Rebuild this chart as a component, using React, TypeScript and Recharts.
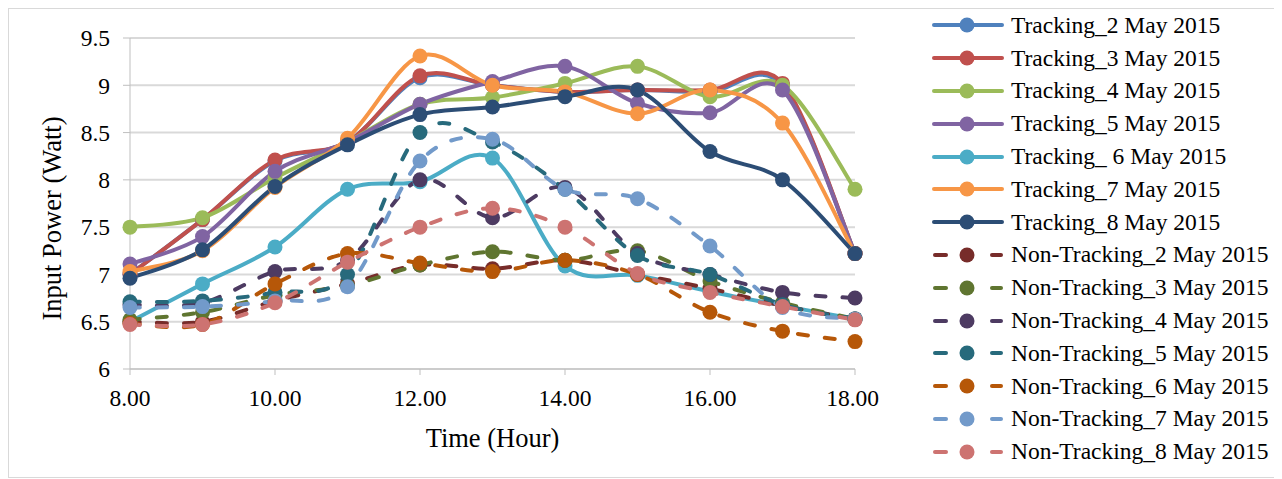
import { CartesianGrid, Line, LineChart, XAxis, YAxis } from 'recharts'

const FONT = "'Liberation Serif', 'Times New Roman', serif"

const hours = [8, 9, 10, 11, 12, 13, 14, 15, 16, 17, 18]
const xTicks = [8, 10, 12, 14, 16, 18]
const yTicks = [6, 6.5, 7, 7.5, 8, 8.5, 9, 9.5]

// tracking (solid)
const tracking2 = [7.0, 7.58, 8.2, 8.4, 9.08, 9.0, 8.93, 8.95, 8.93, 9.0, 7.22]
const tracking3 = [7.0, 7.58, 8.21, 8.4, 9.1, 9.0, 8.93, 8.95, 8.95, 9.02, 7.22]
const tracking4 = [7.5, 7.6, 8.02, 8.4, 8.8, 8.87, 9.02, 9.2, 8.88, 9.0, 7.9]
const tracking5 = [7.11, 7.4, 8.09, 8.4, 8.8, 9.04, 9.2, 8.81, 8.71, 8.95, 7.22]
const tracking6 = [6.5, 6.9, 7.29, 7.9, 7.98, 8.23, 7.09, 6.99, 6.82, 6.67, 6.53]
const tracking7 = [7.03, 7.25, 7.92, 8.44, 9.31, 9.0, 8.93, 8.7, 8.95, 8.6, 7.22]
const tracking8 = [6.96, 7.26, 7.93, 8.37, 8.69, 8.77, 8.88, 8.95, 8.3, 8.0, 7.22]

// non-tracking (dashed)
const nonTracking2 = [6.5, 6.5, 6.72, 6.9, 7.1, 7.06, 7.15, 7.0, 6.85, 6.67, 6.53]
const nonTracking3 = [6.52, 6.6, 6.78, 6.88, 7.1, 7.24, 7.15, 7.25, 6.93, 6.7, 6.53]
const nonTracking4 = [6.68, 6.7, 7.03, 7.15, 8.0, 7.6, 7.92, 7.22, 7.0, 6.81, 6.75]
const nonTracking5 = [6.71, 6.72, 6.81, 7.0, 8.5, 8.4, 7.9, 7.2, 7.0, 6.68, 6.53]
const nonTracking6 = [6.48, 6.47, 6.9, 7.22, 7.12, 7.03, 7.15, 7.0, 6.6, 6.4, 6.29]
const nonTracking7 = [6.65, 6.66, 6.72, 6.87, 8.2, 8.43, 7.9, 7.8, 7.3, 6.65, 6.53]
const nonTracking8 = [6.47, 6.47, 6.7, 7.13, 7.5, 7.7, 7.5, 7.01, 6.81, 6.66, 6.52]

const series = [
  { key: 't2', name: 'Tracking_2 May 2015', color: '#4F81BD', values: tracking2, dashed: false },
  { key: 't3', name: 'Tracking_3 May 2015', color: '#C0504D', values: tracking3, dashed: false },
  { key: 't4', name: 'Tracking_4 May 2015', color: '#9BBB59', values: tracking4, dashed: false },
  { key: 't5', name: 'Tracking_5 May 2015', color: '#8064A2', values: tracking5, dashed: false },
  { key: 't6', name: 'Tracking_ 6 May 2015', color: '#4BACC6', values: tracking6, dashed: false },
  { key: 't7', name: 'Tracking_7 May 2015', color: '#F79646', values: tracking7, dashed: false },
  { key: 't8', name: 'Tracking_8 May 2015', color: '#2C4D75', values: tracking8, dashed: false },
  { key: 'n2', name: 'Non-Tracking_2 May 2015', color: '#772C2A', values: nonTracking2, dashed: true },
  { key: 'n3', name: 'Non-Tracking_3 May 2015', color: '#5F7530', values: nonTracking3, dashed: true },
  { key: 'n4', name: 'Non-Tracking_4 May 2015', color: '#4D3B62', values: nonTracking4, dashed: true },
  { key: 'n5', name: 'Non-Tracking_5 May 2015', color: '#276A7C', values: nonTracking5, dashed: true },
  { key: 'n6', name: 'Non-Tracking_6 May 2015', color: '#B65708', values: nonTracking6, dashed: true },
  { key: 'n7', name: 'Non-Tracking_7 May 2015', color: '#729ACA', values: nonTracking7, dashed: true },
  { key: 'n8', name: 'Non-Tracking_8 May 2015', color: '#CD7371', values: nonTracking8, dashed: true },
]

const data = hours.map((hour, i) => {
  const row: Record<string, number> = { hour }
  series.forEach((s) => {
    row[s.key] = s.values[i]
  })
  return row
})

// Excel-style smoothed line (Catmull-Rom through the points)
function excelSmooth(context: any) {
  let pts: number[][] = []
  return {
    areaStart() {},
    areaEnd() {},
    lineStart() {
      pts = []
    },
    point(x: number, y: number) {
      pts.push([+x, +y])
    },
    lineEnd() {
      const n = pts.length
      if (!n) return
      context.moveTo(pts[0][0], pts[0][1])
      for (let i = 0; i < n - 1; i++) {
        const p0 = pts[Math.max(i - 1, 0)]
        const p1 = pts[i]
        const p2 = pts[i + 1]
        const p3 = pts[Math.min(i + 2, n - 1)]
        context.bezierCurveTo(
          p1[0] + (p2[0] - p0[0]) / 6,
          p1[1] + (p2[1] - p0[1]) / 6,
          p2[0] - (p3[0] - p1[0]) / 6,
          p2[1] - (p3[1] - p1[1]) / 6,
          p2[0],
          p2[1],
        )
      }
    },
  }
}

function YTitle({ viewBox }: any) {
  const cx = viewBox.x + 43
  const cy = viewBox.y + viewBox.height / 2 + 15
  return (
    <text
      x={cx}
      y={cy}
      transform={`rotate(-90 ${cx} ${cy})`}
      textAnchor="middle"
      dominantBaseline="central"
      fontSize={26.5}
      fontFamily={FONT}
      fill="#000"
    >
      Input Power (Watt)
    </text>
  )
}

function LegendIcon({ color, dashed }: { color: string; dashed: boolean }) {
  return (
    <svg width={72} height={18} style={{ display: 'block' }}>
      {dashed ? (
        <>
          <line x1={3} y1={9} x2={14} y2={9} stroke={color} strokeWidth={4} strokeLinecap="round" />
          <line x1={60} y1={9} x2={69} y2={9} stroke={color} strokeWidth={4} strokeLinecap="round" />
        </>
      ) : (
        <line x1={2} y1={9} x2={70} y2={9} stroke={color} strokeWidth={4} strokeLinecap="round" />
      )}
      <circle cx={35} cy={9} r={7.5} fill={color} />
    </svg>
  )
}

export default function App() {
  return (
    <div
      style={{
        position: 'relative',
        width: 1273,
        height: 468,
        borderTop: '1px solid #d9d9d9',
        borderLeft: '1px solid #d9d9d9',
        borderBottom: '1px solid #d9d9d9',
        fontFamily: FONT,
        background: '#fff',
      }}
    >
      <LineChart
        width={870}
        height={468}
        data={data}
        margin={{ top: 29, right: 24, bottom: 30, left: 0 }}
        style={{ fontFamily: FONT }}
      >
        <CartesianGrid vertical={false} stroke="#d9d9d9" strokeWidth={2} />
        <XAxis
          dataKey="hour"
          type="number"
          domain={[8, 18]}
          ticks={xTicks}
          tickFormatter={(v: number) => v.toFixed(2)}
          height={78}
          tickSize={6}
          tickMargin={14}
          stroke="#bfbfbf"
          tick={{ fill: '#000', fontSize: 23.5, fontFamily: FONT }}
          label={{ value: 'Time (Hour)', position: 'insideBottom', offset: 0, fill: '#000', fontSize: 26.5, fontFamily: FONT }}
        />
        <YAxis
          type="number"
          domain={[6, 9.5]}
          ticks={yTicks}
          width={121}
          tickSize={7}
          tickMargin={13}
          stroke="#bfbfbf"
          tick={{ fill: '#000', fontSize: 23.5, fontFamily: FONT }}
          label={(props: any) => <YTitle {...props} />}
        />
        {series.map((s) => (
          <Line
            key={s.key}
            dataKey={s.key}
            name={s.name}
            type={excelSmooth as any}
            stroke={s.color}
            strokeWidth={4}
            strokeDasharray={s.dashed ? '10 17' : undefined}
            strokeLinecap="round"
            dot={{ r: 7.5, fill: s.color, stroke: s.color, strokeWidth: 0, strokeDasharray: '' }}
            activeDot={false}
            isAnimationActive={false}
          />
        ))}
      </LineChart>
      <div style={{ position: 'absolute', left: 923, top: 0 }}>
        {series.map((s) => (
          <div key={s.key} style={{ display: 'flex', alignItems: 'center', height: 32.8 }}>
            <LegendIcon color={s.color} dashed={s.dashed} />
            <span style={{ fontSize: 23.5, marginLeft: 7, whiteSpace: 'nowrap', color: '#000' }}>{s.name}</span>
          </div>
        ))}
      </div>
    </div>
  )
}
